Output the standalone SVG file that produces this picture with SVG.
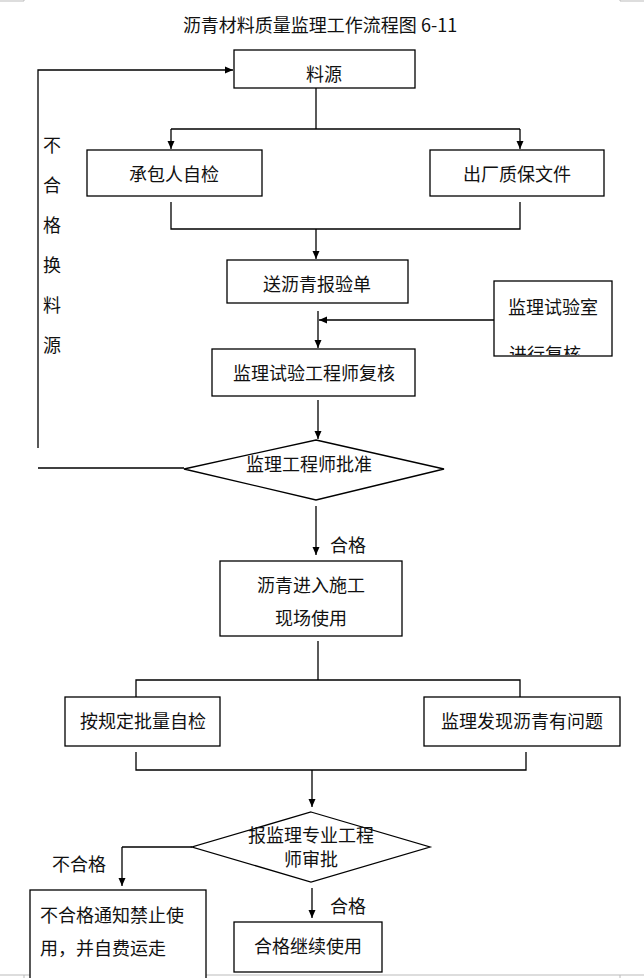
<svg xmlns="http://www.w3.org/2000/svg" width="644" height="978" viewBox="0 0 644 978">
<defs>
<marker id="ah" markerWidth="10" markerHeight="10" refX="9" refY="5" orient="auto" markerUnits="userSpaceOnUse">
<path d="M1,1.5 L9,5 L1,8.5 Z" fill="#000"/>
</marker>
<style>
.box{fill:#fff;stroke:#000;stroke-width:1.3}
.ln{fill:none;stroke:#000;stroke-width:1.3}
.arr{fill:none;stroke:#000;stroke-width:1.3;marker-end:url(#ah)}
text{font-family:"Noto Sans CJK SC","Noto Sans",sans-serif;fill:#111;font-size:18px}
.c{text-anchor:middle}
.pg{stroke:#bbb;stroke-width:1;fill:none}
</style>
<clipPath id="clipLab"><rect x="494" y="281" width="118" height="74"/></clipPath>
</defs>
<rect width="644" height="978" fill="#fff"/>
<g id="page-marks">
<path class="pg" d="M0,1 H24 V0 M620,0 V1 H644 M0,975 H644 M24,975 V978 M620,975 V978"/>
</g>
<text id="title" class="c" x="320" y="32" font-size="18">沥青材料质量监理工作流程图 6-11</text>

<g id="connectors">
<path class="arr" d="M38,448 V70 H233"/>
<path class="ln" d="M38,468 H184"/>
<path class="ln" d="M316,88 V129"/>
<path class="ln" d="M171,129 H520"/>
<path class="arr" d="M171,129 V149"/>
<path class="arr" d="M520,129 V149"/>
<path class="ln" d="M171,202 V229 H520 V202"/>
<path class="arr" d="M316,229 V259"/>
<path class="arr" d="M318,311 V348"/>
<path class="arr" d="M494,320 H319"/>
<path class="arr" d="M318,400 V439"/>
<path class="arr" d="M316,506 V555"/>
<path class="ln" d="M318,641 V680"/>
<path class="ln" d="M136,697 V680 H520 V697"/>
<path class="ln" d="M136,752 V770 H526 V752"/>
<path class="arr" d="M312,770 V807"/>
<path class="ln" d="M192,847 H122"/>
<path class="arr" d="M122,847 V886"/>
<path class="arr" d="M312,888 V918"/>
</g>

<g id="labels">
<text x="330" y="552">合格</text>
<text x="330" y="913">合格</text>
<text x="52" y="871">不合格</text>
<text x="52" y="152" class="c">不</text>
<text x="52" y="192" class="c">合</text>
<text x="52" y="232" class="c">格</text>
<text x="52" y="272" class="c">换</text>
<text x="52" y="312" class="c">料</text>
<text x="52" y="352" class="c">源</text>
</g>

<g id="n-liaoyuan"><rect class="box" x="234" y="50" width="181" height="38"/><text class="c" x="324" y="81" font-size="17">料源</text></g>
<g id="n-chengbao"><rect class="box" x="87" y="150" width="175" height="46"/><text class="c" x="174" y="181">承包人自检</text></g>
<g id="n-chuchang"><rect class="box" x="430" y="150" width="174" height="46"/><text class="c" x="517" y="181">出厂质保文件</text></g>
<g id="n-song"><rect class="box" x="227" y="260" width="181" height="43"/><text class="c" x="317" y="291">送沥青报验单</text></g>
<g id="n-lab"><rect class="box" x="494" y="281" width="118" height="75"/>
<g clip-path="url(#clipLab)"><text class="c" x="553" y="314">监理试验室</text><text class="c" x="545" y="361">进行复核</text></g></g>
<g id="n-fuhe"><rect class="box" x="212" y="349" width="203" height="47"/><text class="c" x="314" y="380">监理试验工程师复核</text></g>
<g id="n-pizhun"><polygon class="box" points="316,440 444,469 316,500 184,469"/><text class="c" x="309" y="471" font-size="16">监理工程师批准</text></g>
<g id="n-jinru"><rect class="box" x="220" y="561" width="182" height="75"/><text class="c" x="311" y="592">沥青进入施工</text><text class="c" x="311" y="625">现场使用</text></g>
<g id="n-zijian"><rect class="box" x="65" y="697" width="155" height="49"/><text class="c" x="143" y="728">按规定批量自检</text></g>
<g id="n-wenti"><rect class="box" x="424" y="697" width="196" height="49"/><text class="c" x="522" y="728">监理发现沥青有问题</text></g>
<g id="n-shenpi"><polygon class="box" points="311,812 430,847 311,882 192,847"/><text class="c" x="311" y="842" font-size="15">报监理专业工程</text><text class="c" x="311" y="866" font-size="15">师审批</text></g>
<g id="n-buhege"><rect class="box" x="30" y="890" width="176" height="95"/><text x="40" y="922">不合格通知禁止使</text><text x="40" y="955">用，并自费运走</text></g>
<g id="n-hege"><rect class="box" x="234" y="922" width="148" height="50"/><text class="c" x="308" y="953">合格继续使用</text></g>
</svg>
